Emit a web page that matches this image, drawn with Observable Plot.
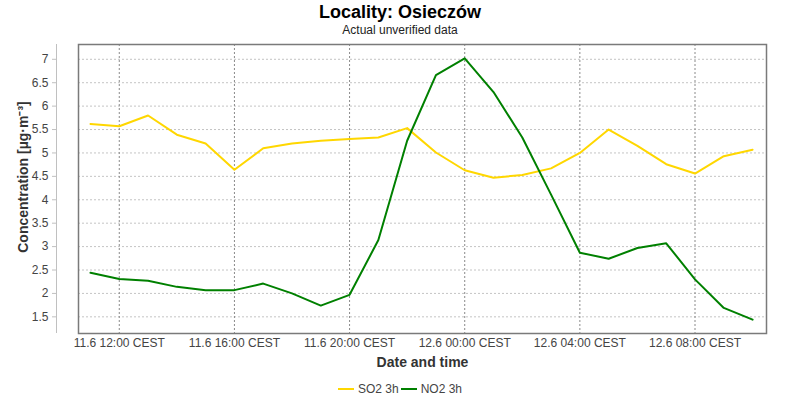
<!DOCTYPE html>
<html>
<head>
<meta charset="utf-8">
<script src="https://cdn.jsdelivr.net/npm/d3@7"></script>
<script src="https://cdn.jsdelivr.net/npm/@observablehq/plot@0.6"></script>
<style>
  html, body { margin: 0; padding: 0; background: #fff; width: 800px; height: 400px; overflow: hidden; }
  body { font-family: "Liberation Sans", Arial, sans-serif; }
  #title { text-align: center; font-weight: bold; font-size: 18px; line-height: 22px; height: 22px; color: #000; padding-top: 1px; }
  #subtitle { text-align: center; font-size: 12px; line-height: 15px; height: 15px; color: #222; }
  #chart svg { display: block; }
  #legend { text-align: center; font-size: 12px; line-height: 16px; color: #444; margin-top: -2px; }
  #legend .item { display: inline-flex; align-items: center; margin: 0 1px; }
  #legend .sw { display: inline-block; width: 16px; height: 2px; margin-right: 4px; }
</style>
</head>
<body>
<div id="title"></div>
<div id="subtitle"></div>
<div id="chart"></div>
<div id="legend"></div>
<script>
const titleText = "Locality: Osieczów";
const subtitleText = "Actual unverified data";
const xLabel = "Date and time";
const yLabel = "Concentration [µg·m⁻³]";

const seriesNames = ["SO2 3h", "NO2 3h"];
const seriesColors = ["#FFD700", "#008000"];

const times = [
  "2024-06-11T11:00", "2024-06-11T12:00", "2024-06-11T13:00", "2024-06-11T14:00",
  "2024-06-11T15:00", "2024-06-11T16:00", "2024-06-11T17:00", "2024-06-11T18:00",
  "2024-06-11T19:00", "2024-06-11T20:00", "2024-06-11T21:00", "2024-06-11T22:00",
  "2024-06-11T23:00", "2024-06-12T00:00", "2024-06-12T01:00", "2024-06-12T02:00",
  "2024-06-12T03:00", "2024-06-12T04:00", "2024-06-12T05:00", "2024-06-12T06:00",
  "2024-06-12T07:00", "2024-06-12T08:00", "2024-06-12T09:00", "2024-06-12T10:00"
];
const so2 = [5.62, 5.57, 5.80, 5.39, 5.20, 4.64, 5.10, 5.20, 5.26, 5.30, 5.33, 5.53,
             5.01, 4.63, 4.47, 4.53, 4.67, 5.00, 5.50, 5.15, 4.76, 4.56, 4.93, 5.07];
const no2 = [2.44, 2.31, 2.27, 2.14, 2.07, 2.07, 2.21, 2.00, 1.74, 1.97, 3.14, 5.26,
             6.66, 7.02, 6.30, 5.33, 4.11, 2.87, 2.74, 2.97, 3.07, 2.30, 1.69, 1.44];

const xTickTimes = ["2024-06-11T12:00", "2024-06-11T16:00", "2024-06-11T20:00",
                    "2024-06-12T00:00", "2024-06-12T04:00", "2024-06-12T08:00"];
const xTickLabels = ["11.6 12:00 CEST", "11.6 16:00 CEST", "11.6 20:00 CEST",
                     "12.6 00:00 CEST", "12.6 04:00 CEST", "12.6 08:00 CEST"];
const yTicks = [1.5, 2, 2.5, 3, 3.5, 4, 4.5, 5, 5.5, 6, 6.5, 7];
const xDomain = ["2024-06-11T10:35", "2024-06-12T10:29"];
const yDomain = [1.144, 7.316];

const parse = d3.utcParse("%Y-%m-%dT%H:%M");
const data = [];
times.forEach((t, i) => {
  data.push({time: parse(t), value: so2[i], series: seriesNames[0]});
});
times.forEach((t, i) => {
  data.push({time: parse(t), value: no2[i], series: seriesNames[1]});
});
const xTicks = xTickTimes.map(parse);
const labelMap = new Map(xTicks.map((d, i) => [+d, xTickLabels[i]]));

document.getElementById("title").textContent = titleText;
document.getElementById("subtitle").textContent = subtitleText;

const chart = Plot.plot({
  width: 800,
  height: 342,
  marginTop: 6,
  marginBottom: 47,
  marginLeft: 78,
  marginRight: 34,
  style: {fontFamily: "'Liberation Sans', Arial, sans-serif", fontSize: "12px", color: "#444", background: "#fff"},
  x: {type: "utc", domain: xDomain.map(parse)},
  y: {domain: yDomain},
  color: {domain: seriesNames, range: seriesColors},
  marks: [
    Plot.gridY(yTicks, {stroke: "#c4c4c4", strokeOpacity: 1, strokeDasharray: "2,2"}),
    Plot.gridX(xTicks, {stroke: "#8a8a8a", strokeOpacity: 1, strokeDasharray: "2,2"}),
    Plot.lineY(data, {x: "time", y: "value", z: "series", stroke: "series", strokeWidth: 2}),
    Plot.frame({stroke: "#7a7a7a", strokeWidth: 1.5}),
    Plot.ruleX([parse(xDomain[0])], {dx: -22, stroke: "#c0c0c0", strokeWidth: 1}),
    Plot.axisY(yTicks, {anchor: "left", tickSize: 4, tickPadding: 4, dx: -22, stroke: "#c0c0c0", fill: "#444", label: null, tickFormat: d => String(d)}),
    Plot.axisX(xTicks, {anchor: "bottom", tickSize: 0, tickPadding: 5, fill: "#444", label: null, tickFormat: d => labelMap.get(+d)}),
    Plot.text([xLabel], {frameAnchor: "bottom", lineAnchor: "middle", dy: 29, text: d => d, fontWeight: "bold", fontSize: 14, fill: "#333"}),
    Plot.text([yLabel], {frameAnchor: "left", textAnchor: "middle", lineAnchor: "middle", dx: -55, dy: -12, rotate: -90, text: d => d, fontWeight: "bold", fontSize: 14, fill: "#333"})
  ]
});
document.getElementById("chart").appendChild(chart);

const legend = document.getElementById("legend");
seriesNames.forEach((name, i) => {
  const item = document.createElement("span");
  item.className = "item";
  const sw = document.createElement("span");
  sw.className = "sw";
  sw.style.background = seriesColors[i];
  item.appendChild(sw);
  const label = document.createElement("span");
  label.textContent = name;
  item.appendChild(label);
  legend.appendChild(item);
});
</script>
</body>
</html>
